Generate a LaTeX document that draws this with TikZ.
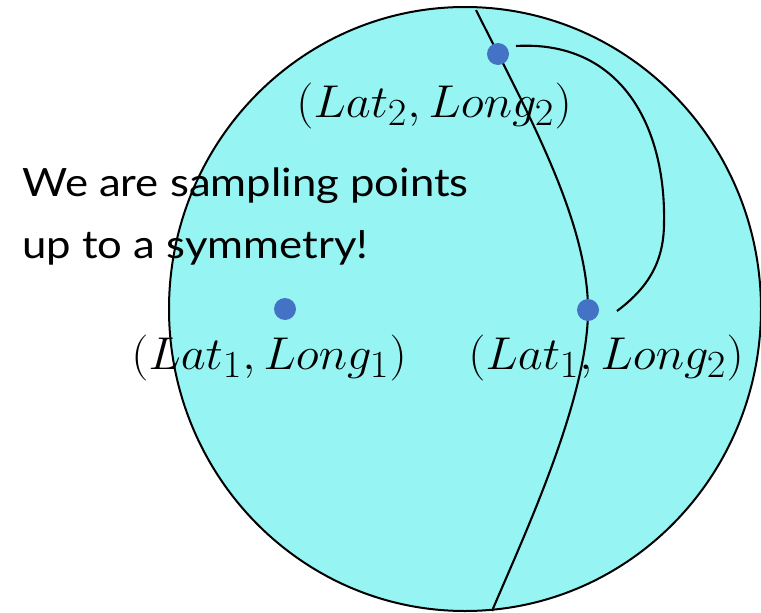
\documentclass[tikz,border=0pt]{standalone}
\usepackage{fontspec}
\setsansfont{Lato}
\definecolor{globe}{RGB}{150,245,243}
\definecolor{dotblue}{RGB}{68,114,196}
\newcommand{\biglab}[1]{\scalebox{1.95}[1.85]{\Huge $#1$}}
\begin{document}
\begin{tikzpicture}[x=1pt,y=-1pt,
  curve/.style={line width=2.1pt,black},
  pt/.style={circle,fill=dotblue,inner sep=0pt,minimum size=22pt},
  mlabel/.style={anchor=base,inner sep=0pt},
  note/.style={anchor=base west,inner sep=0pt,font=\sffamily\fontsize{39}{50}\selectfont}]
\useasboundingbox (0,0) rectangle (761,613);
\begin{scope}
\clip (0,0) rectangle (761,613);
\draw[fill=globe,line width=2pt] (465,309) ellipse [x radius=296, y radius=302];
\end{scope}
\coordinate (mtop) at (476,10);
\coordinate (mbot) at (492,611);
\coordinate (as) at (516,46);
\coordinate (am) at (664,223);
\coordinate (ae) at (617,311);
\draw[curve] (mtop) .. controls (526,110) and (588,220) .. (588,310)
  .. controls (588,400) and (522,540) .. (mbot);
\draw[curve] (as) .. controls (620,40) and (666,125) .. (am)
  .. controls (664,265) and (645,290) .. (ae);
\node[pt] (p2) at (498,54) {};
\node[pt] (p1) at (285,309) {};
\node[pt] (p3) at (588,310) {};
\node[mlabel] (l2) at (434,117) {\biglab{(Lat_2,Long_2)}};
\node[mlabel] (l1) at (269,369) {\biglab{(Lat_1,Long_1)}};
\node[mlabel] (l3) at (606,369) {\biglab{(Lat_1,Long_2)}};
\node[note] (t1) at (22,196) {\scalebox{1.12}[1]{We are sampling points}};
\node[note] (t2) at (22,258) {\scalebox{1.12}[1]{up to a symmetry!}};
\end{tikzpicture}
\end{document}
